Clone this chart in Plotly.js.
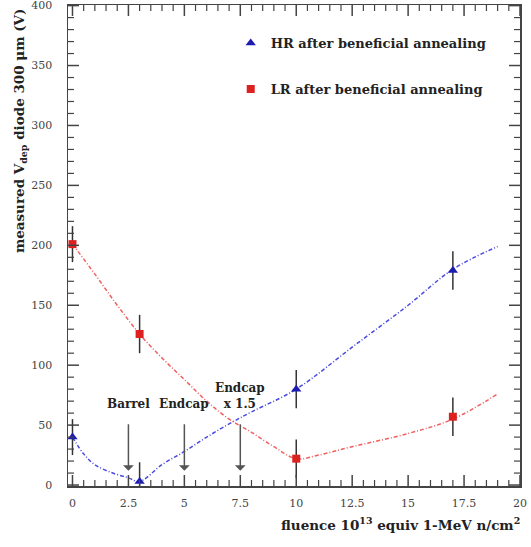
<!DOCTYPE html>
<html>
<head>
<meta charset="utf-8">
<script src="https://cdn.plot.ly/plotly-3.0.1.min.js"></script>
<style>html,body{margin:0;padding:0;background:#fff;}#chart{width:531px;height:547px;}</style>
</head>
<body>
<div id="chart"></div>
<script>
// ---- data ----
const fluence = [0, 3, 10, 17];
const hrV = [40, 3, 80, 179];
const hrErr = [15, 16, 16, 16];
const lrV = [201, 126, 22, 57];
const lrErr = [15, 16, 16, 16];

const hrFitX = [0, 0.5, 1, 1.8, 2.5, 3, 4, 5, 6, 7, 8, 10, 12.5, 15, 17, 19];
const hrFitY = [40, 26, 17, 10, 6, 3, 17, 28, 40, 51, 61, 80, 115, 150, 180, 199];
const lrFitX = [0, 1, 2, 3, 4, 5, 6, 7, 8, 9, 10, 11, 12.5, 15, 17, 19];
const lrFitY = [201, 176, 150, 126, 106, 88, 70, 55, 44, 32, 22, 25, 32, 43, 55, 76];

const markerNames = ['Barrel', 'Endcap', 'Endcap<br>x 1.5'];
const markerFluence = [2.5, 5, 7.5];

const hrName = 'HR after beneficial annealing';
const lrName = 'LR after beneficial annealing';
const xTitle = 'fluence 10<sup>13</sup> equiv 1-MeV n/cm<sup>2</sup>';
const yTitle = 'measured V<sub>dep</sub> diode 300 \u03bcm (V)';

// axis tick spacing
const X_MAX = 20, X_MAJOR = 2.5, X_MINOR = 0.5;
const Y_MAX = 400, Y_MAJOR = 50, Y_MINOR = 10;

const FONT = 'DejaVu Serif, Liberation Serif, serif';
const BLUE = '#1c1cb0';
const RED = '#dd2020';
const AXC = '#444';

const traces = [
  {x: hrFitX, y: hrFitY, mode: 'lines', line: {color: '#4a4ae0', width: 1.5, dash: '4px,2px,1px,2px', shape: 'spline'}, showlegend: false, hoverinfo: 'skip'},
  {x: lrFitX, y: lrFitY, mode: 'lines', line: {color: '#f06060', width: 1.5, dash: '4px,2px,1px,2px', shape: 'spline'}, showlegend: false, hoverinfo: 'skip'},
  {x: fluence, y: hrV, mode: 'markers', name: hrName, legendgroup: 'hr',
   marker: {symbol: 'triangle-up', size: 9, color: BLUE},
   error_y: {type: 'data', array: hrErr, visible: true, color: '#333', thickness: 1.5, width: 0}},
  {x: fluence, y: lrV, mode: 'markers', name: lrName, legendgroup: 'lr',
   marker: {symbol: 'square', size: 8, color: RED},
   error_y: {type: 'data', array: lrErr, visible: true, color: '#333', thickness: 1.5, width: 0}}
];

const annotations = [];
markerFluence.forEach((fx, i) => {
  annotations.push({x: fx, y: 12, ax: fx, ay: 52, xref: 'x', yref: 'y', axref: 'x', ayref: 'y',
    text: '', showarrow: true, arrowhead: 1, arrowsize: 1.2, arrowwidth: 1.5, arrowcolor: '#555'});
  annotations.push({x: fx, y: 60, xref: 'x', yref: 'y', text: markerNames[i], showarrow: false,
    yanchor: 'bottom', font: {family: FONT, size: 12, color: '#222', weight: 'bold'}});
});
annotations.push({x: -0.106, y: 0.738, xref: 'paper', yref: 'paper', text: yTitle, textangle: -90,
  showarrow: false, xanchor: 'center', yanchor: 'middle', font: {family: FONT, size: 13.5, color: '#222', weight: 'bold'}});
annotations.push({x: 0.735, y: -0.079, xref: 'paper', yref: 'paper', text: xTitle,
  showarrow: false, xanchor: 'center', yanchor: 'middle', font: {family: FONT, size: 13.5, color: '#222', weight: 'bold'}});

// inside ticks on all four sides (ROOT style), placed through the axes
const shapes = [];
function xTick(v, len, w) {
  shapes.push({type: 'line', xref: 'x', yref: 'paper', ysizemode: 'pixel', yanchor: 0, x0: v, x1: v, y0: 0, y1: len, line: {color: AXC, width: w}});
  shapes.push({type: 'line', xref: 'x', yref: 'paper', ysizemode: 'pixel', yanchor: 1, x0: v, x1: v, y0: 0, y1: -len, line: {color: AXC, width: w}});
}
function yTick(v, len, w) {
  shapes.push({type: 'line', xref: 'paper', yref: 'y', xsizemode: 'pixel', xanchor: 0, y0: v, y1: v, x0: 0, x1: len, line: {color: AXC, width: w}});
  shapes.push({type: 'line', xref: 'paper', yref: 'y', xsizemode: 'pixel', xanchor: 1, y0: v, y1: v, x0: 0, x1: -len, line: {color: AXC, width: w}});
}
for (let i = 0; i * X_MINOR <= X_MAX + 1e-9; i++) {
  const v = i * X_MINOR;
  const major = Math.abs(v / X_MAJOR - Math.round(v / X_MAJOR)) < 1e-9;
  xTick(v, major ? 11 : 6, major ? 1.5 : 1.2);
}
for (let i = 0; i * Y_MINOR <= Y_MAX + 1e-9; i++) {
  const v = i * Y_MINOR;
  const major = v % Y_MAJOR === 0;
  yTick(v, major ? 11 : 6, major ? 1.5 : 1.2);
}

const layout = {
  width: 531, height: 547,
  margin: {l: 68, r: 11, t: 5, b: 61},
  paper_bgcolor: '#fff', plot_bgcolor: '#fff',
  xaxis: {range: [-0.2, X_MAX], tick0: 0, dtick: X_MAJOR,
    showline: true, linecolor: AXC, linewidth: 1.5, mirror: true,
    ticks: '', showgrid: false, zeroline: false, ticklabeloverflow: 'allow', ticklabelstandoff: 6,
    tickfont: {family: FONT, size: 11, color: '#444'}},
  yaxis: {range: [-0.8, 400.5], tick0: 0, dtick: Y_MAJOR, ticklabelstandoff: 12,
    showline: true, linecolor: AXC, linewidth: 1.5, mirror: true,
    ticks: '', showgrid: false, zeroline: false, ticklabeloverflow: 'allow',
    tickfont: {family: FONT, size: 11, color: '#444'}},
  showlegend: true,
  legend: {x: 0.36, y: 0.952, xanchor: 'left', yanchor: 'top', traceorder: 'grouped', tracegroupgap: 26,
    bgcolor: 'rgba(0,0,0,0)', font: {family: FONT, size: 13, color: '#222', weight: 'bold'}, itemwidth: 30},
  annotations: annotations,
  shapes: shapes
};

Plotly.newPlot('chart', traces, layout, {staticPlot: true, displayModeBar: false});
</script>
</body>
</html>
